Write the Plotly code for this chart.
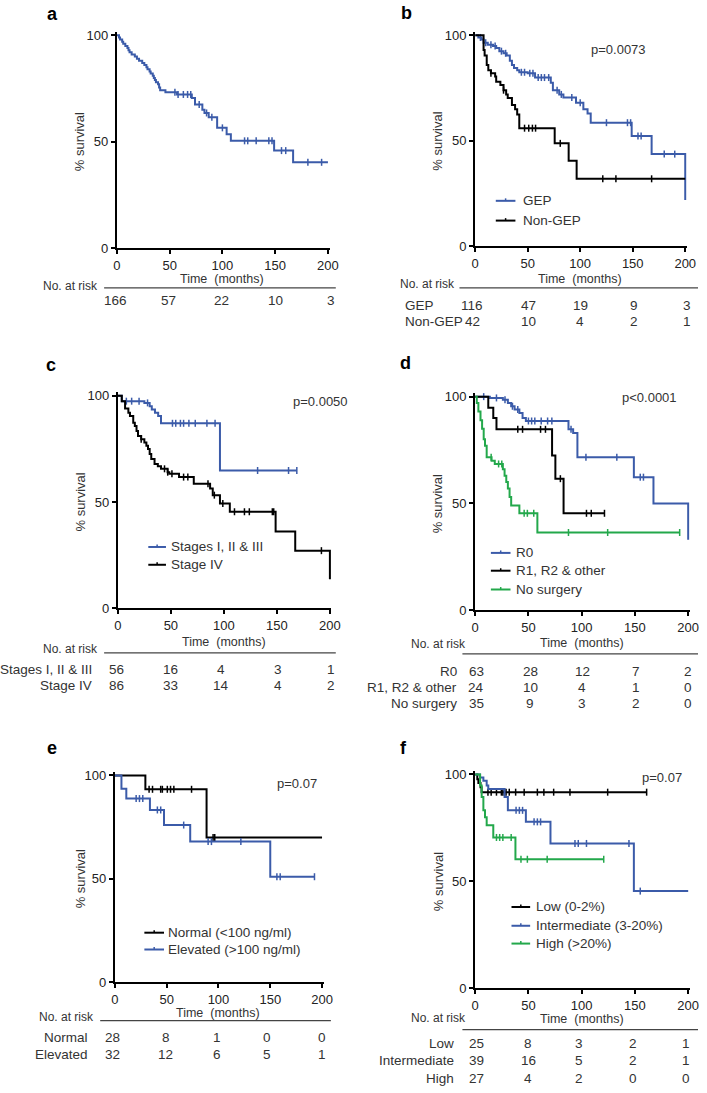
import plotly.graph_objects as go

W, H = 707, 1093
BLUE = '#3b5ba9'
GREEN = '#23a84b'
BLACK = '#000000'
TXT = '#222222'
FONT = 'Liberation Sans, Arial, sans-serif'

# ---------------- DATA ----------------
# Panel a: all patients
a_t = [0, 2, 3, 5, 6, 8, 10, 11, 12, 14, 17, 19, 21, 24, 26, 28, 29, 31, 32, 34, 35, 36, 37, 39, 40, 41, 46, 57, 71, 74, 81, 83, 87, 95, 104, 108, 149, 167, 200]
a_s = [100, 99, 98, 97, 96, 95, 94, 93, 92, 91, 90, 89, 88, 87, 86, 85, 84, 83, 82, 81, 80, 79, 78, 77, 75.5, 74.2, 73.2, 72.2, 70.5, 67.5, 65, 63.5, 61.5, 56.5, 53.5, 50.4, 45.8, 40.3, 40.3]
a_c = [55, 58, 63, 67, 70, 78, 85, 90, 100, 121, 124, 132, 144, 147, 156, 160, 181, 194]

# Panel b: GEP vs Non-GEP
b_gep_t = [0, 3, 6, 8, 12, 17, 20, 23, 27, 30, 33, 35, 37, 40, 42, 50, 57, 72, 74, 80, 84, 96, 103, 107, 110, 149, 168, 200]
b_gep_s = [100, 99, 98, 96.5, 95.5, 95, 94, 92.5, 91.5, 90.5, 88, 86, 84.5, 83.5, 82.5, 82, 80, 77.5, 74, 72, 70.5, 68, 65, 63, 58.6, 52.3, 43.7, 22]
b_gep_c = [5, 10, 15, 19, 25, 29, 44, 47, 52, 55, 60, 63, 66, 70, 78, 82, 92, 100, 125, 145, 148, 155, 158, 180, 190]
b_non_t = [0, 8, 9, 11, 12.5, 15, 19, 20, 24, 27, 29.5, 31, 35, 38, 40, 42, 75.7, 89, 96.6, 200]
b_non_s = [100, 93, 90.5, 86, 83.5, 82, 80.5, 78, 76.5, 74, 72, 70.3, 67, 65, 62.5, 56, 48.8, 40.6, 32, 32]
b_non_c = [15, 27, 47, 51, 54.5, 57.5, 81, 121.5, 134, 168]

# Panel c: stage
c_s13_t = [0, 3.7, 25, 30, 32, 35, 38, 40.7, 96.3, 168.8]
c_s13_s = [100, 97.4, 96.6, 95, 93.5, 92, 90.4, 87, 64.8, 64.8]
c_s13_c = [8, 13, 20, 28, 51.5, 54.6, 59, 62, 67, 73, 84, 91.7, 131.8, 161, 168.8]
c_s4_t = [0, 3.7, 6.8, 9.9, 11.4, 14.5, 16, 17.6, 19, 22, 25, 26.9, 28.4, 30, 31.5, 34.6, 37.7, 40.7, 46.9, 48.5, 57.7, 71.6, 87, 89.5, 96.3, 105.6, 148.8, 167.3, 200]
c_s4_s = [100, 97.4, 94, 92, 90.4, 87.3, 85.7, 83.4, 81, 79.5, 78, 76.4, 74.9, 72.6, 70.2, 67.9, 66.8, 65.6, 64, 63.3, 61.7, 58.6, 56.3, 53.2, 49.3, 45.4, 36.1, 27.1, 13.6]
c_s4_c = [22, 44, 47, 51, 62, 66, 85, 91, 99, 110, 119.4, 124, 145.7, 147, 192]

# Panel d: surgery
d_r0_t = [0, 13.8, 26, 30.7, 33.8, 37, 41.5, 44.5, 47.6, 87.6, 92, 96, 149, 167.4, 200]
d_r0_s = [100, 99.4, 98.6, 97, 95.5, 94, 92.4, 90, 88.6, 84.7, 83, 71.6, 62.3, 50, 33]
d_r0_c = [8, 20, 28, 35, 40, 50, 53, 56, 62, 68, 72, 90, 104, 133, 155, 158]
d_r1_t = [0, 12.3, 17, 20, 72.2, 75.3, 83, 121.4]
d_r1_s = [100, 94.8, 90, 84.7, 72.4, 61.6, 45.4, 45.4]
d_r1_c = [40, 44.5, 61.4, 66, 80, 104.5, 109, 121.4]
d_ns_t = [0, 1.5, 3, 5, 6.5, 8, 9.2, 10.8, 15.4, 18.4, 26, 27.6, 29.2, 30.7, 32.3, 33.8, 41.5, 58.4, 192]
d_ns_s = [100, 97, 93, 89, 85, 80, 77, 71.6, 70, 68.5, 66, 63, 60, 57, 53, 49, 45.4, 36.4, 36.4]
d_ns_c = [15, 22, 25, 46, 49, 55, 87.6, 124.4, 192]

# Panel e: chromogranin
e_nor_t = [0, 29.4, 88.5, 200]
e_nor_s = [100, 93.3, 70, 70]
e_nor_c = [33, 36.3, 44.2, 45.8, 50.6, 53.7, 56.9, 74, 94.8, 96.4]
e_ele_t = [0, 6.3, 11, 33.8, 47.4, 72.7, 150, 192.7]
e_ele_s = [100, 93.6, 88.8, 83.3, 76, 68, 51, 51]
e_ele_c = [20.5, 23.7, 26.9, 41, 44.2, 66.4, 90, 93.2, 121.6, 156.4, 159.6, 192.7]

# Panel f: Ki-67
f_low_t = [0, 2, 3, 5, 6, 161]
f_low_s = [100, 97.8, 96, 94, 91.7, 91.7]
f_low_c = [12, 15, 20, 24.6, 26, 27.6, 29, 32, 38, 46, 58.4, 64.5, 73.7, 89, 124.4, 161]
f_int_t = [0, 4.6, 7.7, 10.8, 12.3, 27.6, 30.7, 47.6, 70.7, 149, 200]
f_int_s = [100, 98.6, 97, 94.8, 93.2, 89.4, 83.2, 77.8, 67.7, 45.4, 45.4]
f_int_c = [38.4, 41.5, 44.5, 55.3, 58.4, 61.4, 93.7, 96.8, 104.5, 144.4, 155]
f_hig_t = [0, 4.6, 6.1, 7.7, 9.2, 10.8, 17, 37.8, 120.7]
f_hig_s = [100, 94.8, 89.4, 83.2, 80, 76.2, 70.5, 60.3, 60.3]
f_hig_c = [20, 23, 26, 33.8, 43, 49, 67.6, 120.7]

# at-risk tables
a_risk_labels = ['']
a_risk = [[166, 57, 22, 10, 3]]
b_risk_labels = ['GEP', 'Non-GEP']
b_risk = [[116, 47, 19, 9, 3], [42, 10, 4, 2, 1]]
c_risk_labels = ['Stages I, II & III', 'Stage IV']
c_risk = [[56, 16, 4, 3, 1], [86, 33, 14, 4, 2]]
d_risk_labels = ['R0', 'R1, R2 & other', 'No surgery']
d_risk = [[63, 28, 12, 7, 2], [24, 10, 4, 1, 0], [35, 9, 3, 2, 0]]
e_risk_labels = ['Normal', 'Elevated']
e_risk = [[28, 8, 1, 0, 0], [32, 12, 6, 5, 1]]
f_risk_labels = ['Low', 'Intermediate', 'High']
f_risk = [[25, 8, 3, 2, 1], [39, 16, 5, 2, 1], [27, 4, 2, 0, 0]]

x_ticks = [0, 50, 100, 150, 200]
y_ticks = [0, 50, 100]

# ---------------- LAYOUT (pixel geometry) ----------------
panels = [
    dict(letter='a', lx=49, ly=10, ax0=115, ax1=330, ay100=31.7, ay0=246.7, ytx=77,
         pval=None, timey=278.5, narx=68, nary=285, line=(102, 338, 287),
         rows=[300], labx=None, labanchor='right', numx=[114, 168, 222, 277, 333],
         curves=[(a_t, a_s, a_c, BLUE)], legend=None, risk=a_risk, risk_labels=a_risk_labels),
    dict(letter='b', lx=410, ly=9, ax0=480, ax1=694, ay100=31.7, ay0=245, ytx=442,
         pval=('p=0.0073', 626, 46), timey=278.5, narx=431, nary=283, line=(464, 707, 287),
         rows=[305, 321], labx=406, labanchor='left', numx=[477, 534, 587, 642, 696],
         curves=[(b_gep_t, b_gep_s, b_gep_c, BLUE), (b_non_t, b_non_s, b_non_c, BLACK)],
         legend=dict(x0=501, x1=521, tx=527, ys=[199, 219], items=[('GEP', BLUE), ('Non-GEP', BLACK)]),
         risk=b_risk, risk_labels=b_risk_labels),
    dict(letter='c', lx=48, ly=365, ax0=116, ax1=332, ay100=396, ay0=611, ytx=78,
         pval=('p=0.0050', 322, 402), timey=645.5, narx=68, nary=652, line=(102, 338, 656),
         rows=[673, 689], labx=92, labanchor='right', numx=[115, 170, 221, 279, 333],
         curves=[(c_s13_t, c_s13_s, c_s13_c, BLUE), (c_s4_t, c_s4_s, c_s4_c, BLACK)],
         legend=dict(x0=147, x1=165, tx=168, ys=[549, 567], items=[('Stages I, II & III', BLUE), ('Stage IV', BLACK)]),
         risk=c_risk, risk_labels=c_risk_labels),
    dict(letter='d', lx=409, ly=363, ax0=480, ax1=697, ay100=397, ay0=613, ytx=442,
         pval=('p<0.0001', 658, 398), timey=646.5, narx=443, nary=647, line=(467, 707, 657),
         rows=[675, 691, 707], labx=464, labanchor='right', numx=[481, 536, 589, 644, 697],
         curves=[(d_r0_t, d_r0_s, d_r0_c, BLUE), (d_r1_t, d_r1_s, d_r1_c, BLACK), (d_ns_t, d_ns_s, d_ns_c, GREEN)],
         legend=dict(x0=496, x1=516, tx=520, ys=[555, 573, 592], items=[('R0', BLUE), ('R1, R2 & other', BLACK), ('No surgery', GREEN)]),
         risk=d_risk, risk_labels=d_risk_labels),
    dict(letter='e', lx=49, ly=752, ax0=113, ax1=324, ay100=780, ay0=989, ytx=78,
         pval=('p=0.07', 298, 788), timey=1020, narx=64, nary=1024, line=(98, 333, 1028),
         rows=[1045, 1062], labx=88, labanchor='right', numx=[111, 165, 217, 268, 324],
         curves=[(e_nor_t, e_nor_s, e_nor_c, BLACK), (e_ele_t, e_ele_s, e_ele_c, BLUE)],
         legend=dict(x0=143, x1=163, tx=165, ys=[939, 956], items=[('Normal (<100 ng/ml)', BLACK), ('Elevated (>100 ng/ml)', BLUE)]),
         risk=e_risk, risk_labels=e_risk_labels),
    dict(letter='f', lx=407, ly=752, ax0=480, ax1=697, ay100=779, ay0=995, ytx=442,
         pval=('p=0.07', 670, 782), timey=1026, narx=443, nary=1025, line=(467, 707, 1037),
         rows=[1051, 1068, 1086], labx=460, labanchor='right', numx=[481, 534, 586, 641, 695],
         curves=[(f_low_t, f_low_s, f_low_c, BLACK), (f_int_t, f_int_s, f_int_c, BLUE), (f_hig_t, f_hig_s, f_hig_c, GREEN)],
         legend=dict(x0=517, x1=536, tx=540, ys=[913, 932, 950], items=[('Low (0-2%)', BLACK), ('Intermediate (3-20%)', BLUE), ('High (>20%)', GREEN)]),
         risk=f_risk, risk_labels=f_risk_labels),
]

XMAX = 201.5
YMAX = 101.5


def px(x):
    return x / W


def py(y):
    return 1 - y / H


def surv_at(t, times, surv):
    v = surv[0]
    for tt, ss in zip(times, surv):
        if tt <= t:
            v = ss
        else:
            break
    return v


fig = go.Figure()
annotations = []
shapes = []
layout = {}

for k, p in enumerate(panels, start=1):
    xa = 'xaxis' if k == 1 else f'xaxis{k}'
    ya = 'yaxis' if k == 1 else f'yaxis{k}'
    xr = 'x' if k == 1 else f'x{k}'
    yr = 'y' if k == 1 else f'y{k}'
    pw = (p['ax1'] - p['ax0']) / 200.0
    ph = (p['ay0'] - p['ay100']) / 100.0
    xd = [px(p['ax0']), px(p['ax0'] + pw * XMAX)]
    yd = [py(p['ay0']), py(p['ay0'] - ph * YMAX)]
    layout[xa] = dict(domain=xd, range=[0, XMAX], anchor=yr, showline=True, linewidth=2, linecolor='black',
                      ticks='outside', ticklen=4, tickwidth=1.6, tickcolor='black', tickvals=x_ticks,
                      tickfont=dict(size=13, color=TXT, family=FONT), showgrid=False, zeroline=False,
                      fixedrange=True)
    layout[ya] = dict(domain=yd, range=[0, YMAX], anchor=xr, showline=True, linewidth=2, linecolor='black',
                      ticks='outside', ticklen=4, tickwidth=1.6, tickcolor='black', tickvals=y_ticks,
                      tickfont=dict(size=13, color=TXT, family=FONT), showgrid=False, zeroline=False,
                      fixedrange=True)

    for (tt, ss, cc, col) in p['curves']:
        fig.add_trace(go.Scatter(x=tt, y=ss, mode='lines', line=dict(color=col, width=2, shape='hv'),
                                 xaxis=xr, yaxis=yr, showlegend=False, hoverinfo='skip'))
        cy = [surv_at(t, tt, ss) for t in cc]
        fig.add_trace(go.Scatter(x=cc, y=cy, mode='markers', cliponaxis=False,
                                 marker=dict(symbol='line-ns', size=5, line=dict(color=col, width=1.5)),
                                 xaxis=xr, yaxis=yr, showlegend=False, hoverinfo='skip'))

    # panel letter
    annotations.append(dict(text=f"<b>{p['letter']}</b>", x=px(p['lx']), y=py(p['ly']), xref='paper', yref='paper',
                            showarrow=False, xanchor='center', yanchor='middle',
                            font=dict(size=18, color='black', family=FONT)))
    # y title
    annotations.append(dict(text='% survival', x=px(p['ytx']), y=py((p['ay0'] + p['ay100']) / 2), xref='paper',
                            yref='paper', showarrow=False, textangle=-90, xanchor='center', yanchor='middle',
                            font=dict(size=13, color='#333', family=FONT)))
    # x title
    annotations.append(dict(text='Time  (months)', x=px((p['ax0'] + p['ax1']) / 2), y=py(p['timey']), xref='paper',
                            yref='paper', showarrow=False, xanchor='center', yanchor='middle', borderpad=0,
                            font=dict(size=12.5, color='#333', family=FONT)))
    # p value
    if p['pval']:
        annotations.append(dict(text=p['pval'][0], x=px(p['pval'][1]), y=py(p['pval'][2]), xref='paper',
                                yref='paper', showarrow=False, xanchor='center', yanchor='middle',
                                font=dict(size=13, color='#333', family=FONT)))
    # No. at risk
    annotations.append(dict(text='No. at risk', x=px(p['narx']), y=py(p['nary']), xref='paper', yref='paper',
                            showarrow=False, xanchor='center', yanchor='middle',
                            font=dict(size=12, color='#333', family=FONT)))
    lx0, lx1, ly = p['line']
    shapes.append(dict(type='line', xref='paper', yref='paper', x0=px(lx0), x1=px(lx1), y0=py(ly), y1=py(ly),
                       line=dict(color='#444', width=1.2)))
    # table
    for r, (lab, vals) in enumerate(zip(p['risk_labels'], p['risk'])):
        yy = py(p['rows'][r])
        if lab:
            annotations.append(dict(text=lab, x=px(p['labx']), y=yy, xref='paper', yref='paper', showarrow=False,
                                    xanchor=p['labanchor'], yanchor='middle',
                                    font=dict(size=13.5, color='#333', family=FONT)))
        for v, xx in zip(vals, p['numx']):
            annotations.append(dict(text=str(v), x=px(xx), y=yy, xref='paper', yref='paper', showarrow=False,
                                    xanchor='center', yanchor='middle',
                                    font=dict(size=13.5, color='#333', family=FONT)))
    # legend
    if p['legend']:
        lg = p['legend']
        for (name, col), yy in zip(lg['items'], lg['ys']):
            shapes.append(dict(type='line', xref='paper', yref='paper', x0=px(lg['x0']), x1=px(lg['x1']),
                               y0=py(yy), y1=py(yy), line=dict(color=col, width=2)))
            xm = (lg['x0'] + lg['x1']) / 2
            shapes.append(dict(type='line', xref='paper', yref='paper', x0=px(xm), x1=px(xm),
                               y0=py(yy - 2.5), y1=py(yy), line=dict(color=col, width=1.5)))
            annotations.append(dict(text=name, x=px(lg['tx']), y=py(yy), xref='paper', yref='paper',
                                    showarrow=False, xanchor='left', yanchor='middle',
                                    font=dict(size=13.5, color='#333', family=FONT)))

fig.update_layout(width=W, height=H, margin=dict(l=0, r=0, t=0, b=0), paper_bgcolor='white',
                  plot_bgcolor='white', showlegend=False, annotations=annotations, shapes=shapes,
                  font=dict(family=FONT), **layout)

fig.write_html('out.html', config={'displayModeBar': False},
               post_script="document.body.style.margin='0';document.body.style.overflow='hidden';")
